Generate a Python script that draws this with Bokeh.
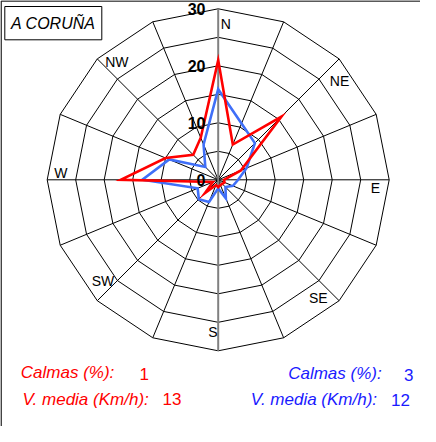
import numpy as np
from bokeh.plotting import figure
from bokeh.models import Range1d
from bokeh.core.properties import value
from bokeh.embed import file_html
from bokeh.resources import INLINE

# ---------------- data ----------------
directions = ["N", "NNE", "NE", "ENE", "E", "ESE", "SE", "SSE",
              "S", "SSW", "SW", "WSW", "W", "WNW", "NW", "NNW"]
red_freq = [21.0, 6.7, 15.7, 4.3, 1.0, 1.2, 1.0, 1.0,
            1.3, 1.0, 3.3, 1.0, 17.1, 10.0, 6.2, 8.0]
blue_freq = [15.9, 10.7, 9.1, 5.4, 3.5, 2.8, 1.8, 3.5,
             1.5, 4.2, 4.8, 3.9, 13.3, 9.3, 3.2, 6.7]
ring_values = [5, 10, 15, 20, 25, 30]
radial_tick_values = [0, 10, 20, 30]
radial_tick_labels = ["0", "10", "20", "30"]
compass_labels = ["N", "NE", "E", "SE", "S", "SW", "W", "NW"]
station = "A CORUÑA"
calmas = [1, 3]
v_media = [13, 12]
series_colors = ["#ff0000", "#3f6ff8"]
text_colors = ["#ff0000", "#1a1aff"]

# ---------------- geometry helpers ----------------
SCALE = 5.7          # px per unit
CX, CY = 225.7, 187.3  # centre in page px
W, H = 420, 426


def px(x, y):
    """page pixel -> data coordinates"""
    return (x - CX) / SCALE, (CY - y) / SCALE


ang = np.deg2rad(np.arange(16) * 22.5)  # clockwise from north


def polar(r):
    r = np.asarray(r, dtype=float)
    return list(r * np.sin(ang)), list(r * np.cos(ang))


x0, y0 = px(8, 8)
x1, y1 = px(8 + W, 8 + H)

p = figure(width=W, height=H, output_backend="svg", toolbar_location=None,
           x_range=Range1d(x0, x1), y_range=Range1d(y1, y0),
           min_border=0, outline_line_color=None)
p.axis.visible = False
p.grid.visible = False
p.background_fill_color = "white"
p.border_fill_color = "white"

FONT = value("Liberation Sans")

# page frame (left & top edges visible)
fx, fy = px(8.6, 8.6)
p.segment(x0=[fx, fx], y0=[fy, fy], x1=[fx, x1], y1=[y1, fy],
          line_color="#222222", line_width=1.5)

# rings
for rv in ring_values:
    xs, ys = polar([rv] * 16)
    p.patch(xs + [xs[0]], ys + [ys[0]], fill_color=None,
            line_color="black", line_width=1)

# spokes
R = ring_values[-1]
sx, sy = polar([R] * 16)
others = [i for i in range(16) if i not in (0, 8)]
p.segment(x0=[0] * len(others), y0=[0] * len(others),
          x1=[sx[i] for i in others], y1=[sy[i] for i in others],
          line_color="black", line_width=1)
# N-S axis in grey
p.segment(x0=[0], y0=[-R], x1=[0], y1=[R], line_color="#808080", line_width=2)

# series
for freq, col in [(blue_freq, series_colors[1]), (red_freq, series_colors[0])]:
    xs, ys = polar(freq)
    p.patch(xs, ys, fill_color=None, line_color=col, line_width=2.6,
            line_join="miter")

# radial tick labels
lx = (213 - CX) / SCALE
p.text(x=[lx] * 4, y=radial_tick_values, text=radial_tick_labels,
       text_font=FONT, text_font_style="bold", text_font_size="16px",
       text_align="right", text_baseline="middle", text_color="black")

# compass labels
label_px = [(233.3, 31.7), (347.0, 88.3), (383.0, 195.8), (325.8, 305.8),
            (220.5, 339.0), (110.5, 288.8), (68.3, 180.8), (124.3, 69.7)]
cxs = [px(a, b)[0] for a, b in label_px]
cys = [px(a, b)[1] for a, b in label_px]
p.text(x=cxs, y=cys, text=compass_labels, text_font=FONT,
       text_font_size="14px", text_align="center", text_baseline="middle",
       text_color="black")

# station box
bx0, by0 = px(12.3, 14.0)
bx1, by1 = px(109.3, 47.3)
p.quad(left=[bx0], right=[bx1], top=[by0], bottom=[by1], fill_color="white",
       line_color="black", line_width=1)
tx, ty = px(60.8, 31.0)
p.text(x=[tx], y=[ty], text=[station], text_font=FONT, text_font_style="italic",
       text_font_size="16px", text_align="center", text_baseline="middle",
       text_color="black")

# statistics
def put(x, y, s, color, italic=True, align="left"):
    dx, dy = px(x, y)
    p.text(x=[dx], y=[dy], text=[s], text_font=FONT,
           text_font_style="italic" if italic else "normal",
           text_font_size="17px", text_align=align, text_baseline="middle",
           text_color=color)

put(28.3, 380.0, "Calmas (%):", text_colors[0])
put(147.0, 381.0, str(calmas[0]), text_colors[0], italic=False)
put(30.0, 406.7, "V. media (Km/h):", text_colors[0])
put(170.0, 406.7, str(v_media[0]), text_colors[0], italic=False)

put(295.7, 381.0, "Calmas (%):", text_colors[1])
put(421.0, 382.0, str(calmas[1]), text_colors[1], italic=False, align="right")
put(258.3, 407.0, "V. media (Km/h):", text_colors[1])
put(417.5, 407.0, str(v_media[1]), text_colors[1], italic=False, align="right")

open("out.html", "w").write(file_html(p, INLINE))
